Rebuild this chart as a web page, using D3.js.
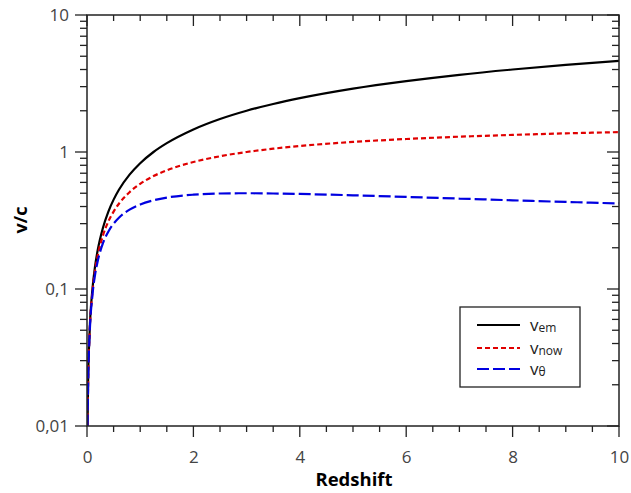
<!DOCTYPE html>
<html><head><meta charset="utf-8">
<script src="https://cdn.jsdelivr.net/npm/d3@7"></script>
<style>body{margin:0;background:#fff}svg{display:block}</style>
</head><body>
<script>
// Data
const redshift = [0.01,0.02,0.05,0.1,0.15,0.2,0.3,0.4,0.5,0.6,0.8,1,1.25,1.5,2,2.5,3,3.5,4,5,6,7,8,9,10];
const vEm  = [0.00998,0.0199,0.0494,0.0976,0.145,0.191,0.280,0.366,0.449,0.530,0.683,0.828,1.00,1.16,1.46,1.74,2.00,2.24,2.47,2.90,3.29,3.66,4.00,4.32,4.63];
const vNow = [0.00993,0.0197,0.0482,0.0931,0.135,0.174,0.246,0.310,0.367,0.419,0.509,0.586,0.667,0.735,0.845,0.931,1.00,1.057,1.106,1.184,1.244,1.293,1.333,1.368,1.397];
const vTh  = [0.00988,0.0195,0.0470,0.0887,0.126,0.159,0.216,0.262,0.300,0.331,0.380,0.414,0.444,0.465,0.488,0.498,0.500,0.498,0.494,0.483,0.470,0.457,0.444,0.432,0.421];
const xTicks = [0,2,4,6,8,10];
const yTicks = [0.01,0.1,1,10];
const yTickLabels = ["0,01","0,1","1","10"];
const legendNames = [["v","em"],["v","now"],["v","\u03B8"]];

const W=631,H=493;
const L=87,R=619,T=15,B=426;
const svg=d3.select("body").append("svg").attr("width",W).attr("height",H);
const x=d3.scaleLinear().domain([0,10]).range([L,R]);
const y=d3.scaleLog().domain([0.01,10]).range([B,T]);

svg.append("defs").append("clipPath").attr("id","clip").append("rect")
  .attr("x",L).attr("y",T).attr("width",R-L).attr("height",B-T);

const line=d3.line().x(d=>x(d[0])).y(d=>y(d[1])).curve(d3.curveMonotoneX);
const series=[
  {v:vEm,color:"#000",dash:null},
  {v:vNow,color:"#e00000",dash:"5,3"},
  {v:vTh,color:"#0000e0",dash:"12,4"}
];
const g=svg.append("g").attr("clip-path","url(#clip)");
series.forEach(s=>{
  g.append("path").datum(redshift.map((z,i)=>[z,s.v[i]]))
   .attr("d",line).attr("fill","none").attr("stroke",s.color)
   .attr("stroke-width",2.2).attr("stroke-dasharray",s.dash);
});

// frame
svg.append("rect").attr("x",L).attr("y",T).attr("width",R-L).attr("height",B-T)
  .attr("fill","none").attr("stroke","#222").attr("stroke-width",1.5);

const font="'Open Sans', 'DejaVu Sans', sans-serif";
const xMinor=d3.range(0,10.001,0.5);
const axColor="#222";
xMinor.forEach(v=>{
  const major=Math.abs(v%2)<1e-9;
  svg.append("line").attr("x1",x(v)).attr("x2",x(v)).attr("y1",B).attr("y2",B+(major?11:6)).attr("stroke",axColor).attr("stroke-width",1.3);
  svg.append("line").attr("x1",x(v)).attr("x2",x(v)).attr("y1",T).attr("y2",T+(major?11:6)).attr("stroke",axColor).attr("stroke-width",1.3);
});
const xAx=d3.axisBottom(x).tickValues(xTicks).tickSize(0).tickFormat(d3.format("d"));
const xg=svg.append("g").attr("transform",`translate(0,${B})`).call(xAx);
xg.select(".domain").remove();
xg.selectAll("text").attr("dy",0).attr("y",37).attr("font-size",17).attr("font-family",font).attr("fill","#444");

const yMinor=[];
[0.01,0.1,1].forEach(d=>{for(let k=1;k<=9;k++)yMinor.push(d*k);});
yMinor.push(10);
yMinor.forEach(v=>{
  const major=yTicks.some(t=>Math.abs(t-v)/t<1e-6);
  svg.append("line").attr("x1",L-(major?12:7)).attr("x2",L).attr("y1",y(v)).attr("y2",y(v)).attr("stroke",axColor).attr("stroke-width",1.3);
  svg.append("line").attr("x1",R-(major?12:7)).attr("x2",R).attr("y1",y(v)).attr("y2",y(v)).attr("stroke",axColor).attr("stroke-width",1.3);
});
const yAx=d3.axisLeft(y).tickValues(yTicks).tickSize(0).tickFormat((d,i)=>yTickLabels[i]);
const yg=svg.append("g").attr("transform",`translate(${L},0)`).call(yAx);
yg.select(".domain").remove();
yg.selectAll("text").attr("x",-18).attr("dy","0.35em").attr("font-size",17).attr("font-family",font).attr("fill","#444");

svg.append("text").attr("x",354).attr("y",486).attr("text-anchor","middle")
  .attr("font-family",font).attr("font-weight","bold").attr("font-size",18.5).text("Redshift");
svg.append("text").attr("transform","translate(27,220) rotate(-90)").attr("text-anchor","middle")
  .attr("font-family",font).attr("font-weight","bold").attr("font-size",18).text("v/c");

// legend
svg.append("rect").attr("x",460).attr("y",307).attr("width",120).attr("height",80)
  .attr("fill","#fff").attr("stroke","#222").attr("stroke-width",1.3);
const ly=[325,348,369];
series.forEach((s,i)=>{
  svg.append("line").attr("x1",477).attr("x2",520).attr("y1",ly[i]).attr("y2",ly[i])
    .attr("stroke",s.color).attr("stroke-width",2).attr("stroke-dasharray",s.dash);
  const t=svg.append("text").attr("x",530).attr("y",ly[i]+6).attr("font-family",font).attr("font-size",17).attr("fill","#222");
  t.append("tspan").text(legendNames[i][0]);
  t.append("tspan").attr("font-size",12).attr("dy",1).text(legendNames[i][1]);
});
</script>
</body></html>
